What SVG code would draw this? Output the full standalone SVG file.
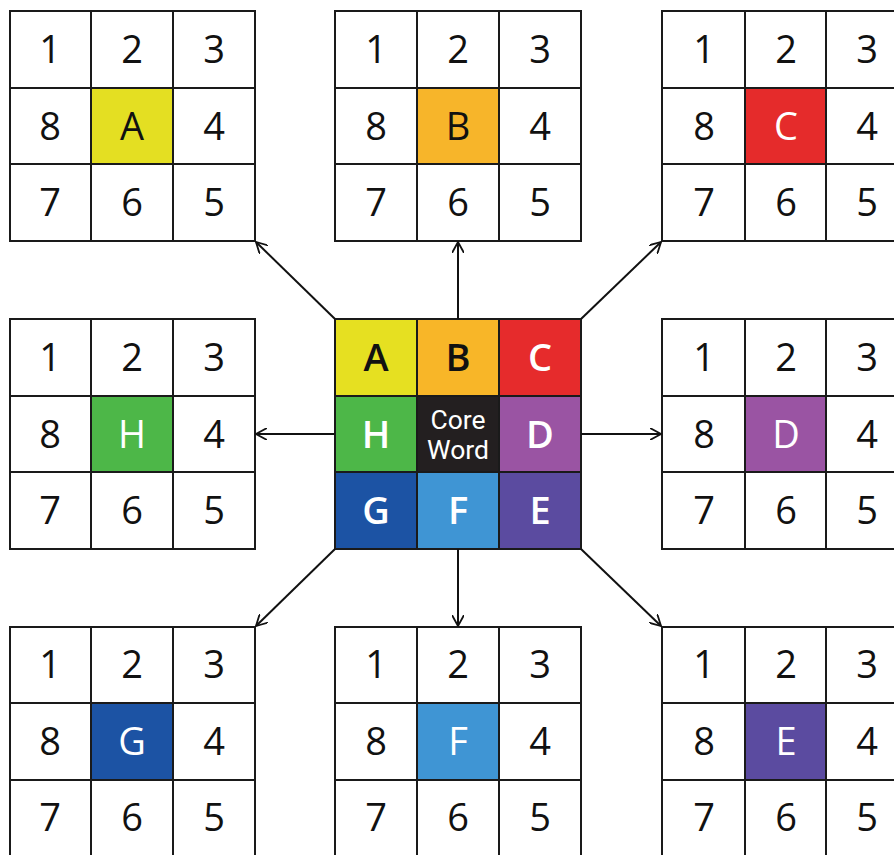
<svg xmlns="http://www.w3.org/2000/svg" width="894" height="855" viewBox="0 0 894 855">
<defs>
<style>
.cell{fill:#fff;stroke:#1a1a1a;stroke-width:2}
.t{font-family:"Open Sans","Noto Sans",sans-serif;font-size:38px;fill:#111;text-anchor:middle}
.w{fill:#fff}
.b{font-weight:600}
.cw{font-family:"Liberation Sans Narrow","Roboto","Liberation Sans",sans-serif;font-size:25px;fill:#fff;text-anchor:middle}
.conn line{stroke:#111;stroke-width:2;marker-end:url(#ah)}
</style>
<marker id="ah" viewBox="0 0 12 12" refX="11" refY="6" markerWidth="12" markerHeight="12" markerUnits="userSpaceOnUse" orient="auto">
<path d="M0,0 L11,6 L0,12" fill="none" stroke="#111" stroke-width="1.8"/>
</marker>
</defs>
<rect width="894" height="855" fill="#fff"/>

<g id="gridA">
<rect class="cell" x="10" y="11" width="81" height="77"/><rect class="cell" x="91" y="11" width="82" height="77"/><rect class="cell" x="173" y="11" width="82" height="77"/>
<rect class="cell" x="10" y="88" width="81" height="76"/><rect class="cell" x="91" y="88" width="82" height="76" style="fill:#e4df22"/><rect class="cell" x="173" y="88" width="82" height="76"/>
<rect class="cell" x="10" y="164" width="81" height="77"/><rect class="cell" x="91" y="164" width="82" height="77"/><rect class="cell" x="173" y="164" width="82" height="77"/>
<text class="t" x="50" y="63">1</text><text class="t" x="132" y="63">2</text><text class="t" x="214" y="63">3</text>
<text class="t" x="50" y="140">8</text><text class="t" x="132" y="140">A</text><text class="t" x="214" y="140">4</text>
<text class="t" x="50" y="216">7</text><text class="t" x="132" y="216">6</text><text class="t" x="214" y="216">5</text>
</g>

<g id="gridB">
<rect class="cell" x="335" y="11" width="82" height="77"/><rect class="cell" x="417" y="11" width="82" height="77"/><rect class="cell" x="499" y="11" width="82" height="77"/>
<rect class="cell" x="335" y="88" width="82" height="76"/><rect class="cell" x="417" y="88" width="82" height="76" style="fill:#f7b52a"/><rect class="cell" x="499" y="88" width="82" height="76"/>
<rect class="cell" x="335" y="164" width="82" height="77"/><rect class="cell" x="417" y="164" width="82" height="77"/><rect class="cell" x="499" y="164" width="82" height="77"/>
<text class="t" x="376" y="63">1</text><text class="t" x="458" y="63">2</text><text class="t" x="540" y="63">3</text>
<text class="t" x="376" y="140">8</text><text class="t" x="458" y="140">B</text><text class="t" x="540" y="140">4</text>
<text class="t" x="376" y="216">7</text><text class="t" x="458" y="216">6</text><text class="t" x="540" y="216">5</text>
</g>

<g id="gridC">
<rect class="cell" x="662" y="11" width="83" height="77"/><rect class="cell" x="745" y="11" width="81" height="77"/><rect class="cell" x="826" y="11" width="82" height="77"/>
<rect class="cell" x="662" y="88" width="83" height="76"/><rect class="cell" x="745" y="88" width="81" height="76" style="fill:#e52b2b"/><rect class="cell" x="826" y="88" width="82" height="76"/>
<rect class="cell" x="662" y="164" width="83" height="77"/><rect class="cell" x="745" y="164" width="81" height="77"/><rect class="cell" x="826" y="164" width="82" height="77"/>
<text class="t" x="704" y="63">1</text><text class="t" x="786" y="63">2</text><text class="t" x="867" y="63">3</text>
<text class="t" x="704" y="140">8</text><text class="t w" x="786" y="140">C</text><text class="t" x="867" y="140">4</text>
<text class="t" x="704" y="216">7</text><text class="t" x="786" y="216">6</text><text class="t" x="867" y="216">5</text>
</g>

<g id="gridH">
<rect class="cell" x="10" y="319" width="81" height="77"/><rect class="cell" x="91" y="319" width="82" height="77"/><rect class="cell" x="173" y="319" width="82" height="77"/>
<rect class="cell" x="10" y="396" width="81" height="76"/><rect class="cell" x="91" y="396" width="82" height="76" style="fill:#4db748"/><rect class="cell" x="173" y="396" width="82" height="76"/>
<rect class="cell" x="10" y="472" width="81" height="77"/><rect class="cell" x="91" y="472" width="82" height="77"/><rect class="cell" x="173" y="472" width="82" height="77"/>
<text class="t" x="50" y="371">1</text><text class="t" x="132" y="371">2</text><text class="t" x="214" y="371">3</text>
<text class="t" x="50" y="448">8</text><text class="t w" x="132" y="448">H</text><text class="t" x="214" y="448">4</text>
<text class="t" x="50" y="524">7</text><text class="t" x="132" y="524">6</text><text class="t" x="214" y="524">5</text>
</g>

<g id="core">
<rect x="335" y="319" width="82" height="77" fill="#e6e021" stroke="#1a1a1a" stroke-width="2"/>
<rect x="417" y="319" width="82" height="77" fill="#f8b628" stroke="#1a1a1a" stroke-width="2"/>
<rect x="499" y="319" width="82" height="77" fill="#e62b2c" stroke="#1a1a1a" stroke-width="2"/>
<rect x="335" y="396" width="82" height="76" fill="#4db748" stroke="#1a1a1a" stroke-width="2"/>
<rect x="417" y="396" width="82" height="76" fill="#231f20" stroke="#1a1a1a" stroke-width="2"/>
<rect x="499" y="396" width="82" height="76" fill="#9a54a3" stroke="#1a1a1a" stroke-width="2"/>
<rect x="335" y="472" width="82" height="77" fill="#1c53a4" stroke="#1a1a1a" stroke-width="2"/>
<rect x="417" y="472" width="82" height="77" fill="#3f95d4" stroke="#1a1a1a" stroke-width="2"/>
<rect x="499" y="472" width="82" height="77" fill="#5b4ba0" stroke="#1a1a1a" stroke-width="2"/>
<text class="t b" x="376" y="371">A</text><text class="t b" x="458" y="371">B</text><text class="t w b" x="540" y="371">C</text>
<text class="t w b" x="376" y="448">H</text><text class="t w b" x="540" y="448">D</text>
<text class="t w b" x="376" y="524">G</text><text class="t w b" x="458" y="524">F</text><text class="t w b" x="540" y="524">E</text>
<text class="cw" x="458" y="429" textLength="55" lengthAdjust="spacingAndGlyphs">Core</text>
<text class="cw" x="458" y="459" textLength="62" lengthAdjust="spacingAndGlyphs">Word</text>
</g>

<g id="gridD">
<rect class="cell" x="662" y="319" width="83" height="77"/><rect class="cell" x="745" y="319" width="81" height="77"/><rect class="cell" x="826" y="319" width="82" height="77"/>
<rect class="cell" x="662" y="396" width="83" height="76"/><rect class="cell" x="745" y="396" width="81" height="76" style="fill:#9a54a3"/><rect class="cell" x="826" y="396" width="82" height="76"/>
<rect class="cell" x="662" y="472" width="83" height="77"/><rect class="cell" x="745" y="472" width="81" height="77"/><rect class="cell" x="826" y="472" width="82" height="77"/>
<text class="t" x="704" y="371">1</text><text class="t" x="786" y="371">2</text><text class="t" x="867" y="371">3</text>
<text class="t" x="704" y="448">8</text><text class="t w" x="786" y="448">D</text><text class="t" x="867" y="448">4</text>
<text class="t" x="704" y="524">7</text><text class="t" x="786" y="524">6</text><text class="t" x="867" y="524">5</text>
</g>

<g id="gridG">
<rect class="cell" x="10" y="627" width="81" height="76"/><rect class="cell" x="91" y="627" width="82" height="76"/><rect class="cell" x="173" y="627" width="82" height="76"/>
<rect class="cell" x="10" y="703" width="81" height="77"/><rect class="cell" x="91" y="703" width="82" height="77" style="fill:#1c53a4"/><rect class="cell" x="173" y="703" width="82" height="77"/>
<rect class="cell" x="10" y="780" width="81" height="77"/><rect class="cell" x="91" y="780" width="82" height="77"/><rect class="cell" x="173" y="780" width="82" height="77"/>
<text class="t" x="50" y="678">1</text><text class="t" x="132" y="678">2</text><text class="t" x="214" y="678">3</text>
<text class="t" x="50" y="755">8</text><text class="t w" x="132" y="755">G</text><text class="t" x="214" y="755">4</text>
<text class="t" x="50" y="831">7</text><text class="t" x="132" y="831">6</text><text class="t" x="214" y="831">5</text>
</g>

<g id="gridF">
<rect class="cell" x="335" y="627" width="82" height="76"/><rect class="cell" x="417" y="627" width="82" height="76"/><rect class="cell" x="499" y="627" width="82" height="76"/>
<rect class="cell" x="335" y="703" width="82" height="77"/><rect class="cell" x="417" y="703" width="82" height="77" style="fill:#3f95d4"/><rect class="cell" x="499" y="703" width="82" height="77"/>
<rect class="cell" x="335" y="780" width="82" height="77"/><rect class="cell" x="417" y="780" width="82" height="77"/><rect class="cell" x="499" y="780" width="82" height="77"/>
<text class="t" x="376" y="678">1</text><text class="t" x="458" y="678">2</text><text class="t" x="540" y="678">3</text>
<text class="t" x="376" y="755">8</text><text class="t w" x="458" y="755">F</text><text class="t" x="540" y="755">4</text>
<text class="t" x="376" y="831">7</text><text class="t" x="458" y="831">6</text><text class="t" x="540" y="831">5</text>
</g>

<g id="gridE">
<rect class="cell" x="662" y="627" width="83" height="76"/><rect class="cell" x="745" y="627" width="81" height="76"/><rect class="cell" x="826" y="627" width="82" height="76"/>
<rect class="cell" x="662" y="703" width="83" height="77"/><rect class="cell" x="745" y="703" width="81" height="77" style="fill:#5b4ba0"/><rect class="cell" x="826" y="703" width="82" height="77"/>
<rect class="cell" x="662" y="780" width="83" height="77"/><rect class="cell" x="745" y="780" width="81" height="77"/><rect class="cell" x="826" y="780" width="82" height="77"/>
<text class="t" x="704" y="678">1</text><text class="t" x="786" y="678">2</text><text class="t" x="867" y="678">3</text>
<text class="t" x="704" y="755">8</text><text class="t w" x="786" y="755">E</text><text class="t" x="867" y="755">4</text>
<text class="t" x="704" y="831">7</text><text class="t" x="786" y="831">6</text><text class="t" x="867" y="831">5</text>
</g>

<g id="connectors" class="conn">
<line x1="335" y1="319" x2="256" y2="242"/>
<line x1="458" y1="319" x2="458" y2="242"/>
<line x1="581" y1="319" x2="661" y2="242"/>
<line x1="335" y1="434" x2="256" y2="434"/>
<line x1="581" y1="434" x2="661" y2="434"/>
<line x1="335" y1="549" x2="256" y2="626"/>
<line x1="458" y1="549" x2="458" y2="626"/>
<line x1="581" y1="549" x2="661" y2="626"/>
</g>
</svg>
